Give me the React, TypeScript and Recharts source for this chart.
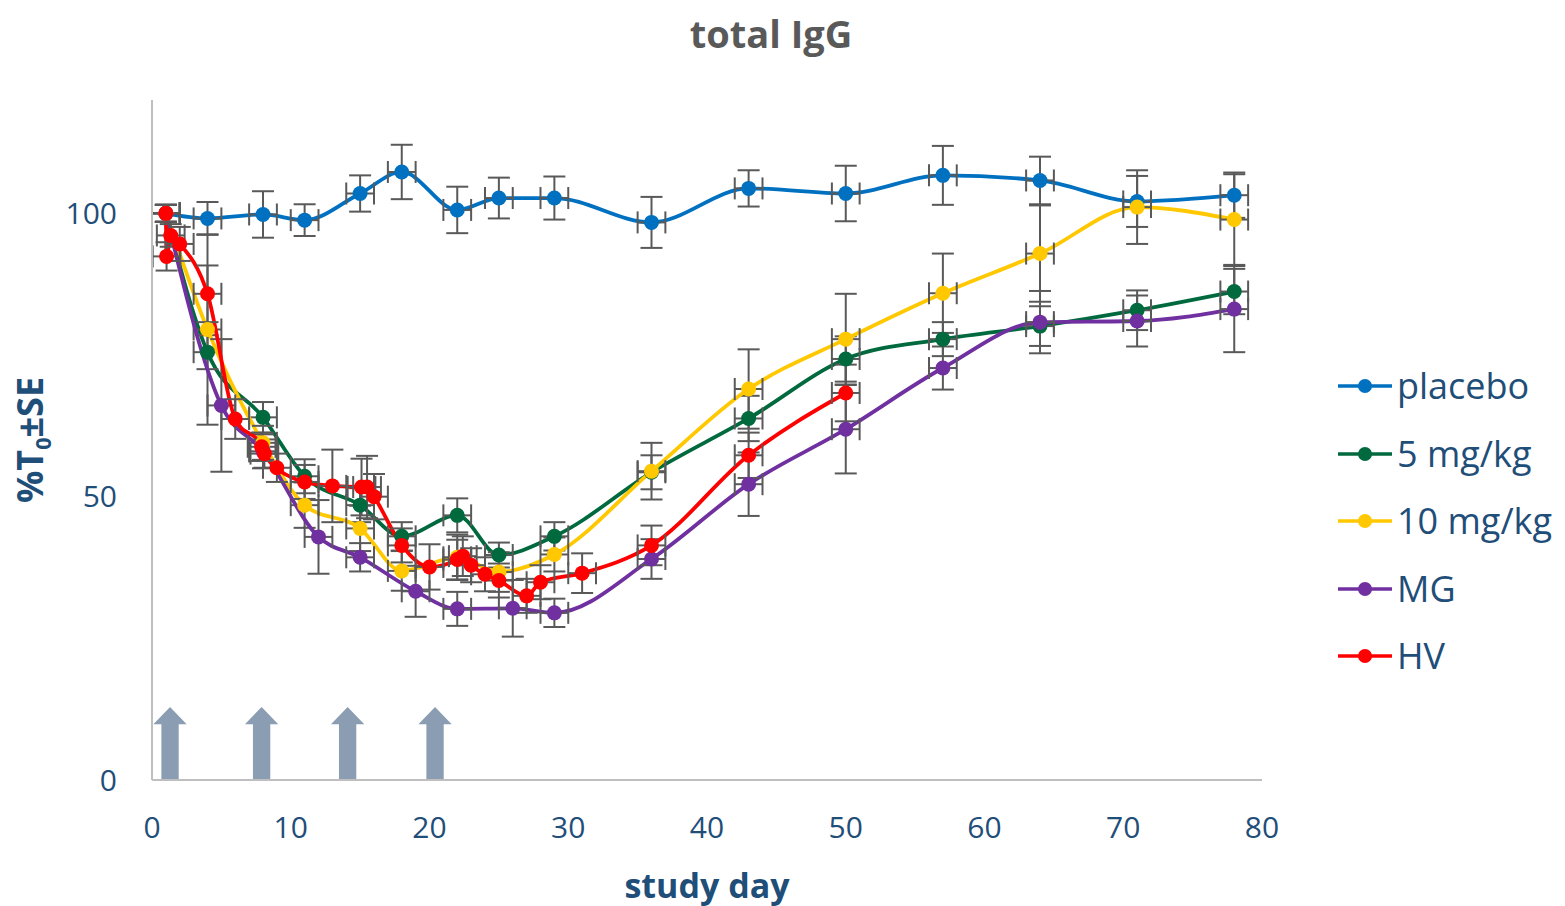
import { ComposedChart, Line, Scatter, ErrorBar, XAxis, YAxis, ReferenceArea } from 'recharts'

// study days / mean %T0 / SE
const placeboDays = [1, 4, 8, 11, 15, 18, 22, 25, 29, 36, 43, 50, 57, 64, 71, 78]
const placeboMean = [100, 99.1, 99.8, 98.8, 103.5, 107.3, 100.6, 102.7, 102.7, 98.4, 104.4, 103.5, 106.7, 105.8, 102.1, 103.2]
const placeboSE = [1.5, 2.9, 4.1, 2.8, 3.2, 4.8, 4.1, 3.6, 3.8, 4.5, 3.2, 4.9, 5.2, 4.2, 4.5, 4.0]

const mg5Days = [1, 4, 8, 11, 15, 18, 22, 25, 29, 36, 43, 50, 57, 64, 71, 78]
const mg5Mean = [100, 75.5, 64.0, 53.6, 48.5, 43.0, 46.7, 39.7, 43.0, 54.3, 63.8, 74.3, 77.8, 80.1, 82.9, 86.2]
const mg5SE = [1.5, 3, 2.7, 3, 3, 2.5, 3, 2.2, 2.5, 3, 4, 4, 3, 3.5, 3.5, 4]

const mg10Days = [1, 4, 8, 11, 15, 18, 22, 25, 29, 36, 43, 50, 57, 64, 71, 78]
const mg10Mean = [100, 79.5, 59.5, 48.5, 44.4, 36.9, 39.3, 36.7, 39.8, 54.5, 69.0, 77.8, 85.9, 92.9, 101.1, 98.9]
const mg10SE = [1.5, 16.8, 3, 4, 4, 3.5, 4, 3.5, 3, 5, 7, 8, 7, 8.5, 6.5, 8]

const mgDays = [1, 5, 8, 12, 15, 19, 22, 26, 29, 36, 43, 50, 57, 64, 71, 78]
const mgMean = [100, 66.1, 58, 42.9, 39.3, 33.3, 30.2, 30.3, 29.5, 39.0, 52.2, 61.9, 72.7, 80.8, 81.0, 83.1]
const mgSE = [1.5, 11.7, 3, 6.5, 2.5, 4.5, 3, 5, 2.5, 3.5, 5.6, 7.8, 3.8, 5.5, 4.5, 7.6]

const hvDays = [1, 1.05, 1.35, 2, 4, 6, 7.9, 8.1, 9, 11, 13, 15.1, 15.5, 16, 18, 20, 22, 22.4, 23, 24, 25, 27, 28, 31, 36, 43, 50]
const hvMean = [100, 92.4, 96.1, 94.6, 85.8, 63.7, 58.8, 57.6, 55.1, 52.6, 51.9, 51.7, 51.7, 50.0, 41.4, 37.6, 38.9, 39.5, 37.9, 36.3, 35.2, 32.5, 34.9, 36.5, 41.4, 57.3, 68.3]
const hvSE = [1.5, 2.5, 2, 3, 5, 3.5, 2.5, 2.5, 2.5, 3, 6.4, 5, 5.5, 4, 3, 4, 3.5, 3.5, 3, 3, 3, 3, 3, 3.5, 3.5, 4, 5]

const DAY_SE = 1 // horizontal error bars, about ±1 day everywhere

const dosingDays = [1.3, 7.9, 14.1, 20.4]
const ARROW_TOP = 12.9
const ARROW_HALF = 1.2

const xTicks = [0, 10, 20, 30, 40, 50, 60, 70, 80]
const yTicks = [0, 50, 100]

const TEXT = '#1F4E79'
const FONT = '"Open Sans", "Noto Sans", sans-serif'

const points = (days: number[], mean: number[], se: number[]) =>
  days.map((d, i) => ({ x: d, y: mean[i], ey: se[i], ex: DAY_SE }))

const series = [
  { name: 'placebo', color: '#0070C0', data: points(placeboDays, placeboMean, placeboSE) },
  { name: '5 mg/kg', color: '#00693E', data: points(mg5Days, mg5Mean, mg5SE) },
  { name: '10 mg/kg', color: '#FFC800', data: points(mg10Days, mg10Mean, mg10SE) },
  { name: 'MG', color: '#7030A0', data: points(mgDays, mgMean, mgSE) },
  { name: 'HV', color: '#FF0000', data: points(hvDays, hvMean, hvSE) },
]

function Arrow(props: any) {
  const { x, y, width, height } = props
  const head = width * 0.52
  const sx0 = x + width * 0.24
  const sx1 = x + width * 0.76
  const d = `M${x + width / 2},${y} L${x + width},${y + head} L${sx1},${y + head} L${sx1},${y + height} L${sx0},${y + height} L${sx0},${y + head} L${x},${y + head} Z`
  return <path d={d} fill="#8A9DB2" />
}

export default function App() {
  return (
    <div style={{ position: 'absolute', left: 0, top: 0, width: 1565, height: 906, background: '#fff', fontFamily: FONT }}>
      <ComposedChart width={1565} height={906} margin={{ top: 100, right: 303, bottom: 66, left: 0 }}>
        <XAxis type="number" dataKey="x" domain={[0, 80]} ticks={xTicks} height={60}
          axisLine={{ stroke: '#BFBFBF', strokeWidth: 2 }} tickLine={false} tickMargin={31}
          tick={{ fontSize: 30, fill: TEXT, fontFamily: FONT }} allowDataOverflow />
        <YAxis type="number" domain={[0, 120]} ticks={yTicks} width={152}
          axisLine={{ stroke: '#BFBFBF', strokeWidth: 2 }} tickLine={false} tickMargin={29}
          tick={{ fontSize: 30, fill: TEXT, fontFamily: FONT }} />
        {dosingDays.map(d => (
          <ReferenceArea key={d} x1={d - ARROW_HALF} x2={d + ARROW_HALF} y1={0} y2={ARROW_TOP} shape={<Arrow />} />
        ))}
        {series.flatMap(s => [
          <Line key={s.name + '-l'} data={s.data} dataKey="y" type="monotone" stroke={s.color} strokeWidth={3.8}
            dot={{ r: 7.5, fill: s.color, stroke: s.color, strokeWidth: 0 }} activeDot={false} isAnimationActive={false} />,
          <Scatter key={s.name + '-e'} data={s.data} dataKey="y" shape={() => <g />} isAnimationActive={false}>
            <ErrorBar dataKey="ey" direction="y" width={11} stroke="#595959" strokeWidth={2} />
            <ErrorBar dataKey="ex" direction="x" width={11} stroke="#595959" strokeWidth={2} />
          </Scatter>,
        ])}
      </ComposedChart>

      <div style={{ position: 'absolute', left: 771, top: 33, transform: 'translate(-50%, -50%)', fontSize: 38, fontWeight: 700, color: '#595959', whiteSpace: 'nowrap' }}>
        total IgG
      </div>
      <div style={{ position: 'absolute', left: 707, top: 885, transform: 'translate(-50%, -50%)', fontSize: 34, fontWeight: 700, color: TEXT, whiteSpace: 'nowrap' }}>
        study day
      </div>
      <div style={{ position: 'absolute', left: 31, top: 440, transform: 'translate(-50%, -50%) rotate(-90deg)', fontSize: 36, fontWeight: 700, color: TEXT, whiteSpace: 'nowrap' }}>
        %T<sub style={{ fontSize: '0.6em' }}>0</sub>±SE
      </div>

      <div style={{ position: 'absolute', left: 1338, top: 366 }}>
        {series.map(s => (
          <div key={s.name} style={{ display: 'flex', alignItems: 'center', height: 40, marginBottom: 27.5 }}>
            <svg width={56} height={20} style={{ marginRight: 3 }}>
              <line x1={0} y1={10} x2={54} y2={10} stroke={s.color} strokeWidth={3.5} />
              <circle cx={27} cy={10} r={7} fill={s.color} />
            </svg>
            <span style={{ fontSize: 36, color: TEXT, whiteSpace: 'nowrap', lineHeight: '40px' }}>{s.name}</span>
          </div>
        ))}
      </div>
    </div>
  )
}
